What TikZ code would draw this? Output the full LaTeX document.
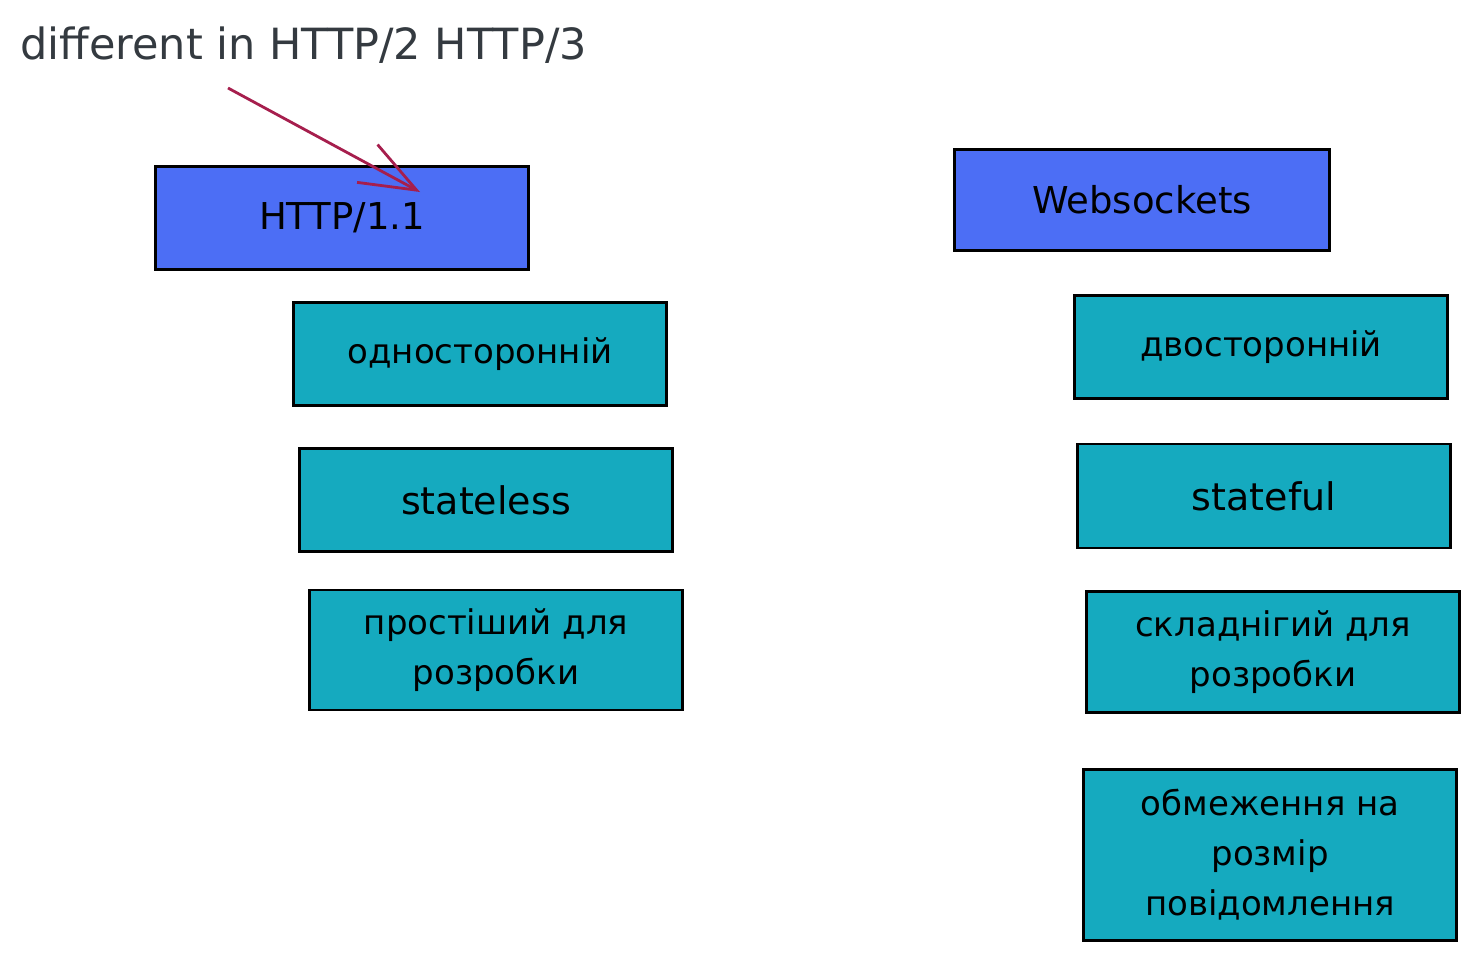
\documentclass[tikz,border=0pt]{standalone}
\usepackage{fontspec}
\setmainfont{DejaVu Sans}
\usetikzlibrary{arrows.meta}

\definecolor{boxblue}{HTML}{4C6EF5}
\definecolor{boxteal}{HTML}{15AABF}
\definecolor{notegray}{HTML}{343A40}
\definecolor{arrowred}{HTML}{A61E4D}

\begin{document}
\begin{tikzpicture}[x=1pt,y=-1pt]
				\tikzstyle{every node}=[inner sep=0pt, align=center, font=\fontsize{34}{50}\selectfont]
				\tikzstyle{card}=[draw=black, line width=2.4pt, minimum width=373pt, minimum height=103pt]
				\tikzstyle{proto}=[card, fill=boxblue, font=\fontsize{37}{50}\selectfont]
				\tikzstyle{feature}=[card, fill=boxteal]
				\useasboundingbox (0,0) rectangle (1479,959);
				% note above
				\node[text=notegray, anchor=west, font=\fontsize{43}{50}\selectfont] (note) at (20,45) {different in HTTP/2 HTTP/3};
				% HTTP/1.1 column
				\node[proto] (http) at (342,218) {HTTP/1.1};
				\node[feature] (oneway) at (480,354) {односторонній};
				\node[feature] (stateless) at (486,500) {\fontsize{38}{50}\selectfont stateless};
				\node[feature, minimum height=120pt] (easy) at (496,650) {простіший для\\розробки};
				% Websockets column
				\node[proto, minimum width=375pt, minimum height=101pt] (ws) at (1142,200) {Websockets};
				\node[feature] (twoway) at (1261,347) {двосторонній};
				\node[feature, minimum height=104pt] (stateful) at (1264,496) {\fontsize{38}{50}\selectfont stateful};
				\node[feature, minimum height=121pt] (hard) at (1273,652) {складнігий для\\розробки};
				\node[feature, minimum height=171pt] (limit) at (1270,855) {обмеження на\\розмір\\повідомлення};
				% arrow to HTTP/1.1
				\coordinate (from) at (228,88);
				\coordinate (to) at (420,192);
				\draw[arrowred, line width=2.8pt, -{Straight Barb[length=56pt, width=43pt, line width=2.8pt]}] (from) -- (to);
\end{tikzpicture}
\end{document}
